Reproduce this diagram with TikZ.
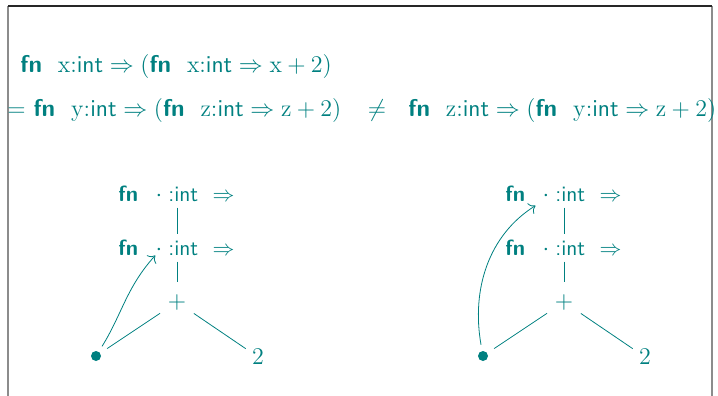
\documentclass[tikz,border=0pt]{standalone}
\usepackage{amsmath,amssymb}
\usepackage{tikz}
\usetikzlibrary{arrows.meta,calc,positioning}
\definecolor{LamTeal}{HTML}{008080}
\newcommand{\kfn}{\textsf{\textbf{fn}}}
\newcommand{\tint}{\textsf{int}}

\begin{document}
\begin{tikzpicture}[x=0.5pt,y=-0.5pt,
    term/.style={LamTeal,inner sep=0pt,font=\fontsize{12.1}{14}\selectfont},
    tree/.style={LamTeal,inner sep=0pt,font=\fontsize{11}{13}\selectfont},
    edge/.style={LamTeal,line width=0.4pt},
    frame/.style={line width=0.7pt}]
  \useasboundingbox (0,0) rectangle (718,396);
  \draw[frame,black!45] (8,396) -- (8,6);
  \draw[frame,black!45] (712,6) -- (712,396);
  \draw[frame,black!85] (8,6) -- (712,6);
  % the two terms
  \node[term,anchor=base west] (row1) at (20,72)
    {\kfn\ \ $\mathrm{x}{:}\tint \Rightarrow (\text{\kfn}\ \ \mathrm{x}{:}\tint \Rightarrow \mathrm{x}+2)$};
  \node[term,anchor=base west] (row2) at (7,116)
    {$=$ \kfn\ \ $\mathrm{y}{:}\tint \Rightarrow (\text{\kfn}\ \ \mathrm{z}{:}\tint \Rightarrow \mathrm{z}+2)$};
  \node[term,anchor=base] (neq) at (377,116) {$\neq$};
  \node[term,anchor=base west] (row3) at (408,116)
    {\kfn\ \ $\mathrm{z}{:}\tint \Rightarrow (\text{\kfn}\ \ \mathrm{y}{:}\tint \Rightarrow \mathrm{z}+2)$};
  % left tree
  \foreach \k/\y in {1/201,2/255} {
    \node[tree,anchor=base west] (fnA\k) at (118,\y) {\kfn};
    \node[tree,anchor=base] (varA\k) at (159,\y) {\large$\cdot$};
    \node[tree,anchor=base west] (tyA\k) at (168,\y) {\textsf{:int}\ \ $\Rightarrow$};
  }
  \node[term,circle,minimum size=20pt] (plusA) at (177,302) {$+$};
  \node[LamTeal,circle,fill,inner sep=0pt,minimum size=5pt] (dotA) at (96,356) {};
  \node[term,inner sep=3pt] (twoA) at (258,357) {$2$};
  \draw[edge,shorten <=3pt,shorten >=3pt] (tyA1.south -| plusA) -- (tyA2.north -| plusA);
  \draw[edge,shorten <=3pt] (tyA2.south -| plusA) -- (plusA);
  \draw[edge,shorten >=4pt] (plusA) -- (dotA);
  \draw[edge] (plusA) -- (twoA);
  \draw[edge,-{To[scale=1.2]},shorten <=3pt] (dotA) to[out=58,in=228] (varA2.south west);
  % right tree
  \foreach \k/\y in {1/201,2/255} {
    \node[tree,anchor=base west] (fnB\k) at (505,\y) {\kfn};
    \node[tree,anchor=base] (varB\k) at (546,\y) {\large$\cdot$};
    \node[tree,anchor=base west] (tyB\k) at (555,\y) {\textsf{:int}\ \ $\Rightarrow$};
  }
  \node[term,circle,minimum size=20pt] (plusB) at (564,302) {$+$};
  \node[LamTeal,circle,fill,inner sep=0pt,minimum size=5pt] (dotB) at (483,356) {};
  \node[term,inner sep=3pt] (twoB) at (645,357) {$2$};
  \draw[edge,shorten <=3pt,shorten >=3pt] (tyB1.south -| plusB) -- (tyB2.north -| plusB);
  \draw[edge,shorten <=3pt] (tyB2.south -| plusB) -- (plusB);
  \draw[edge,shorten >=4pt] (plusB) -- (dotB);
  \draw[edge] (plusB) -- (twoB);
  \draw[edge,-{To[scale=1.2]},shorten <=3pt,shorten >=4pt] (dotB) to[out=100,in=212] (varB1.south west);
\end{tikzpicture}
\end{document}
